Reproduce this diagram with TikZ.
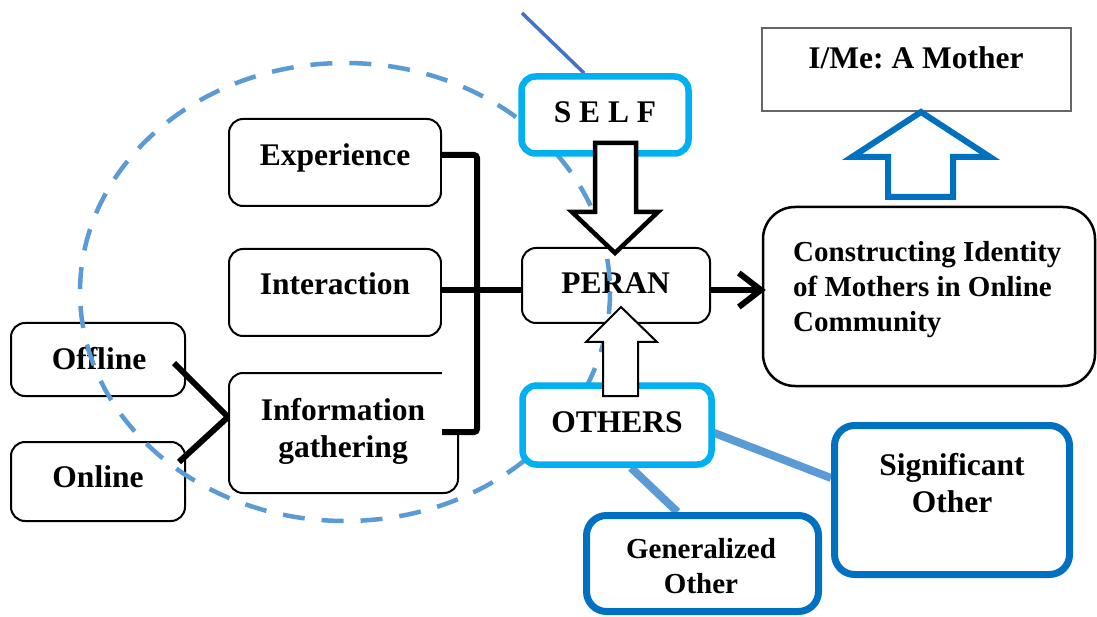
\documentclass[tikz,border=0pt]{standalone}
\usepackage{fontspec}
\setmainfont{Liberation Serif}
\frenchspacing
\usetikzlibrary{arrows.meta,calc,backgrounds}
\definecolor{selfcyan}{RGB}{0,176,240}
\definecolor{otherblue}{RGB}{0,112,192}
\definecolor{lineblue}{RGB}{91,155,213}
\definecolor{topblue}{RGB}{68,114,196}
\tikzset{
  bbox/.style={draw=black, line width=2pt, rounded corners=14pt, fill=white, inner sep=0pt},
  cbox/.style={draw=selfcyan, line width=6.5pt, rounded corners=14pt, fill=white, inner sep=0pt},
  obox/.style={draw=otherblue, line width=7pt, rounded corners=20pt, fill=white, inner sep=0pt},
  lbl/.style={font=\fontsize{31.5}{37}\selectfont\bfseries, inner sep=0pt, anchor=base, align=center},
  slbl/.style={font=\fontsize{29}{35}\selectfont\bfseries, inner sep=0pt, anchor=base},
  thick line/.style={line width=6pt},
  blueline/.style={draw=lineblue, line width=8pt},
  blockarrow/.style={draw=black, fill=white, line join=miter},
}
\begin{document}
\begin{tikzpicture}[x=1pt,y=-1pt]
\useasboundingbox (0,0) rectangle (1097,617);

% black boxes
\node[bbox, minimum width=212, minimum height=87] (exp) at (335,162.5) {};
\node[bbox, minimum width=212, minimum height=87] (int) at (335,292.5) {};
\node[bbox, minimum width=229, minimum height=120] (info) at (343.5,433) {};
\node[bbox, minimum width=174, minimum height=73] (off) at (98,359.5) {};
\node[bbox, minimum width=174, minimum height=79] (on) at (98,481.5) {};
\node[bbox, minimum width=188, minimum height=75] (peran) at (616,285.5) {};
\node[bbox, line width=2.5pt, rounded corners=32pt, minimum width=332, minimum height=179] (cons) at (929,296.5) {};
\node[draw=black!60, line width=2.5pt, fill=white, inner sep=0pt, minimum width=309, minimum height=83] (ime) at (916.5,69.5) {};

\coordinate (ly) at (0,290);
\coordinate (topend) at (522,13);

% bracket (white filled shape) and connectors
\draw[thick line, fill=white, rounded corners=3pt] ($(exp.east)+(0,-7.5)$) -- (477,155) -- (477,432) -- (442,432);
\draw[thick line] (int.east |- ly) -- (peran.west |- ly);
\draw[thick line] ($(off.east)+(-12,3.5)$) -- ($(info.west)+(0,-16)$);
\draw[thick line] ($(on.east)+(-7,-19.5)$) -- ($(info.west)+(0,-16)$);
\draw[thick line, -{Straight Barb[length=22pt,width=34pt]}] (peran.east |- ly) -- ($(cons.west |- ly)+(4,0)$);

% texts on black boxes
\node[lbl] (expT) at (335,166) {Experience};
\node[lbl] (intT) at (335,295) {Interaction};
\node[lbl] (infoT) at (343,457) {Information\\gathering};
\node[lbl] (offT) at (99,369) {Offline};
\node[lbl] (onT) at (98,487) {Online};
\node[lbl] (peranT) at (615.5,294) {PERAN};
\node[lbl] (imeT) at (916,69) {I/Me: A Mother};
\node[slbl, anchor=base west, align=left] (consT) at (793,331) {Constructing Identity\\of Mothers in Online\\Community};

% dashed ellipse
\draw[lineblue, line width=4.5pt, dash pattern=on 22pt off 17pt] (345,292) ellipse [x radius=265, y radius=229];

% coloured boxes
\node[cbox, minimum width=167, minimum height=77] (self) at (605,115) {};
\node[cbox, minimum width=189, minimum height=79] (oth) at (617,425) {};
\node[obox, minimum width=235, minimum height=149] (sig) at (952,500) {};
\node[obox, minimum width=232, minimum height=96] (gen) at (702.5,563.5) {};

\begin{pgfonlayer}{background}
\fill[white] (0,0) rectangle (1097,617);
\draw[blueline] ($(oth.east)+(-3,7)$) -- ($(sig.west)+(0,-22)$);
\draw[blueline] ($(oth.south)+(14,0)$) -- ($(gen.north)+(-25,0)$);
\draw[topblue, line width=3.5pt] (topend) -- ($(self.north west)!0.38!(self.north east)$);
\end{pgfonlayer}

% block arrows
\draw[blockarrow, line width=4.5pt] (595,143) -- (636,143) -- (636,212) -- (658,212) -- (615,253) -- (572,212) -- (595,212) -- cycle;
\draw[blockarrow, line width=2pt] (603,396) -- (638,396) -- (638,342) -- (657,342) -- (621,307) -- (586,342) -- (603,342) -- cycle;
\draw[draw=otherblue, fill=white, line width=6pt, line join=miter] (888,197) -- (953,197) -- (953,157) -- (990,157) -- (921,112) -- (852,157) -- (888,157) -- cycle;

% texts on coloured boxes
\node[lbl] (selfT) at (605,123) {S E L F};
\node[lbl] (othT) at (617,432) {OTHERS};
\node[lbl] (sigT) at (952,512) {Significant\\Other};
\node[slbl, align=center] (genT) at (701,593) {Generalized\\Other};
\end{tikzpicture}
\end{document}
